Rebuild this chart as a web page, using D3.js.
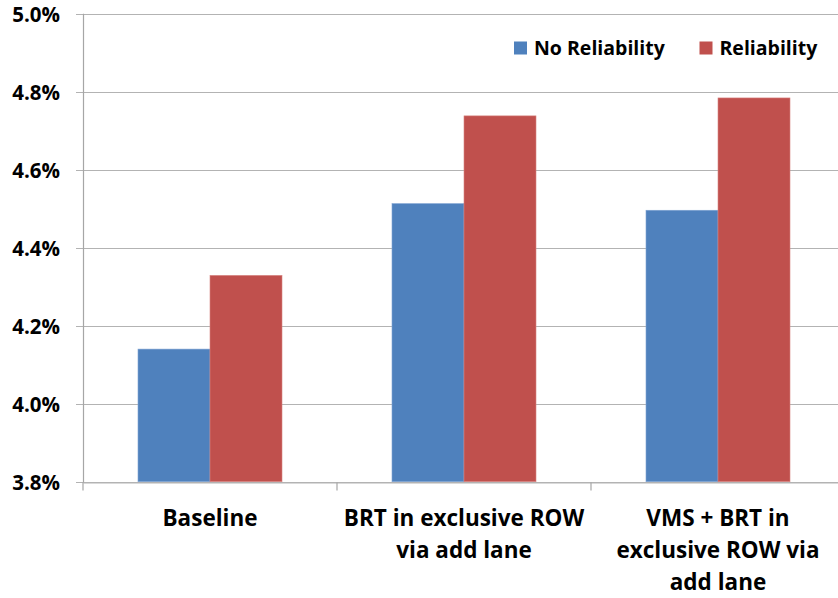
<!DOCTYPE html>
<html>
<head>
<meta charset="utf-8">
<script src="https://cdn.jsdelivr.net/npm/d3@7/dist/d3.min.js"></script>
<style>
  html, body { margin: 0; padding: 0; background: #fff; }
  svg { display: block; }
</style>
</head>
<body>
<svg id="chart" width="838" height="598"></svg>
<script>
const categories = [
  ["Baseline"],
  ["BRT in exclusive ROW", "via add lane"],
  ["VMS + BRT in", "exclusive ROW via", "add lane"]
];
const seriesNames = ["No Reliability", "Reliability"];
const noReliability = [4.14, 4.513, 4.496];
const reliability = [4.329, 4.738, 4.784];
const yTicks = [3.8, 4.0, 4.2, 4.4, 4.6, 4.8, 5.0];
const colors = ["#4F81BD", "#C0504D"];

const svg = d3.select("#chart");
const font = "'Open Sans', 'Liberation Sans', Arial, sans-serif";

const pLeft = 83, pRight = 845, pTop = 13.7, pBottom = 481.7;
const y = d3.scaleLinear().domain([3.8, 5.0]).range([pBottom, pTop]);
const x0 = d3.scaleBand().domain(d3.range(categories.length)).range([pLeft, pRight]).paddingInner(0).paddingOuter(0);
const x1 = d3.scaleBand().domain(d3.range(seriesNames.length)).range([0, x0.bandwidth()]).paddingInner(0).paddingOuter(110 / 144);

// gridlines
svg.append("g")
  .selectAll("line").data(yTicks).join("line")
  .attr("x1", pLeft - 7).attr("x2", 838)
  .attr("y1", d => Math.round(y(d)) + 0.5).attr("y2", d => Math.round(y(d)) + 0.5)
  .attr("stroke", "#B3B3B3").attr("stroke-width", 1.2);

// y axis
const yAxis = d3.axisLeft(y).tickValues(yTicks).tickSize(0).tickPadding(0)
  .tickFormat(d => d3.format(".1f")(d) + "%");
const gy = svg.append("g").attr("transform", `translate(${pLeft},0)`).call(yAxis);
gy.select(".domain").attr("stroke", "#A6A6A6").attr("stroke-width", 1.2).attr("d", `M0.5,${pTop}V${pBottom + 1}`);
gy.selectAll("text")
  .attr("x", -23).attr("dy", "0.36em")
  .attr("font-family", font).attr("font-weight", "bold").attr("font-size", "20.5px").attr("fill", "#000");

// x axis
const xAxis = d3.axisBottom(x0).tickSize(0).tickFormat("");
const gx = svg.append("g").attr("transform", `translate(0,${Math.round(pBottom) + 0.5})`).call(xAxis);
gx.select(".domain").attr("stroke", "#B3B3B3").attr("stroke-width", 1.2);
gx.selectAll(".tick").remove();
gx.selectAll("line.bt").data(d3.range(categories.length + 1)).join("line")
  .attr("class", "bt")
  .attr("x1", i => pLeft + i * x0.step()).attr("x2", i => pLeft + i * x0.step())
  .attr("y1", 0).attr("y2", 8)
  .attr("stroke", "#A6A6A6").attr("stroke-width", 1.2);

// bars
const groups = svg.append("g").selectAll("g").data(categories.map((c, i) => i)).join("g")
  .attr("transform", i => `translate(${x0(i)},0)`);
groups.selectAll("rect")
  .data(i => [noReliability[i], reliability[i]].map((v, s) => ({ v, s })))
  .join("rect")
  .attr("x", d => x1(d.s))
  .attr("width", x1.bandwidth())
  .attr("y", d => y(d.v))
  .attr("height", d => y(3.8) - y(d.v))
  .attr("fill", d => colors[d.s])
  .attr("stroke", d => d.s === 0 ? "#7FA3D3" : "#D88481")
  .attr("stroke-width", 0.6);

// category labels
const lab = svg.append("g");
categories.forEach((lines, i) => {
  const cx = x0(i) + x0.bandwidth() / 2;
  const t = lab.append("text")
    .attr("x", cx).attr("y", 526)
    .attr("text-anchor", "middle")
    .attr("font-family", font).attr("font-weight", "bold").attr("font-size", "22.5px").attr("fill", "#000");
  lines.forEach((ln, k) => {
    t.append("tspan").attr("x", cx).attr("y", 526 + k * 32).text(ln);
  });
});

// legend
const legend = svg.append("g");
const legendX = [514, 699.5];
seriesNames.forEach((name, s) => {
  legend.append("rect").attr("x", legendX[s]).attr("y", 41.5).attr("width", 13).attr("height", 13).attr("fill", colors[s]);
  legend.append("text").attr("x", legendX[s] + 20).attr("y", 55)
    .attr("font-family", font).attr("font-weight", "bold").attr("font-size", "19.5px").attr("fill", "#000")
    .text(name);
});
</script>
</body>
</html>
